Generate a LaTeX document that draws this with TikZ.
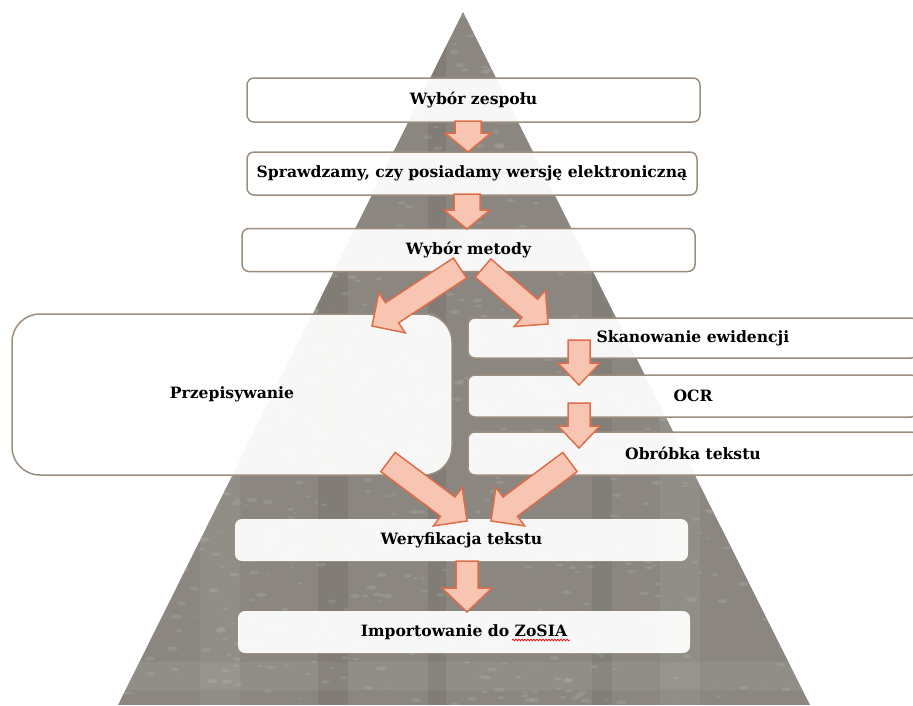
\documentclass[tikz,border=0pt]{standalone}
\usepackage{fontspec}
\setmainfont{DejaVu Serif}
\usetikzlibrary{calc,decorations.pathmorphing}
\definecolor{tri}{HTML}{8B8680}
\definecolor{boxline}{HTML}{9C8E7F}
\definecolor{arrfill}{HTML}{F8C5B3}
\definecolor{arrline}{HTML}{DE6E4A}
\tikzset{
  stepbox/.style={draw=boxline, line width=1.5pt, fill=white, fill opacity=0.94,
    text opacity=1, rounded corners=7pt, inner sep=0pt,
    font=\bfseries\fontsize{15.6}{18}\selectfont},
  barrow/.style={fill=arrfill, draw=arrline, line width=1.5pt, line join=miter},
  spell/.style={draw=red, line width=0.7pt, decorate,
    decoration={snake, amplitude=0.9pt, segment length=3pt}}
}
% block arrow: #1 from, #2 to, #3 half shaft, #4 half head, #5 head length
\newcommand\blockarr[5]{%
  \coordinate (ba-h) at ($(#2)!#5!(#1)$);
  \draw[barrow] ($(#1)!#3!90:(#2)$) -- ($(ba-h)!#3!90:(#2)$) -- ($(ba-h)!#4!90:(#2)$)
    -- (#2) -- ($(ba-h)!#4!-90:(#2)$) -- ($(ba-h)!#3!-90:(#2)$) -- ($(#1)!#3!-90:(#2)$) -- cycle;
}
\begin{document}
\begin{tikzpicture}[x=1pt, y=-1pt]
\useasboundingbox (0,0) rectangle (913,705);
\clip (0,0) rectangle (913,705);
\fill[white] (0,0) rectangle (913,705);
% textured pyramid
\begin{scope}
  \clip (463,12) -- (810,705) -- (118,705) -- cycle;
  \fill[tri] (0,0) rectangle (913,705);
  \fill[black, opacity=0.07] (318,0) rectangle (348,705);
  \fill[black, opacity=0.07] (428,0) rectangle (446,705);
  \fill[black, opacity=0.06] (592,0) rectangle (612,705);
  \fill[white, opacity=0.06] (200,0) rectangle (240,705);
  \fill[white, opacity=0.06] (660,0) rectangle (700,705);
  \fill[white, opacity=0.06] (100,662) rectangle (820,690);
  \pgfmathsetseed{7}
  \foreach \i in {1,...,1100}{
    \pgfmathsetmacro\px{118+rnd*692}
    \pgfmathsetmacro\py{12+rnd*693}
    \pgfmathsetmacro\pr{0.5+rnd*1.8}
    \fill[white, opacity=0.10] (\px,\py) ellipse [x radius=2.5*\pr, y radius=\pr];
  }
\end{scope}
% boxes
\node[stepbox, minimum width=453pt, minimum height=44pt] (b1) at (473.5,100) {Wybór zespołu};
\node[stepbox, minimum width=450pt, minimum height=43pt] (b2) at (472,173.5) {Sprawdzamy,\ czy posiadamy wersję elektroniczną};
\node[stepbox, minimum width=453pt, minimum height=43pt] (b3) at (468.5,250) {Wybór metody};
\node[stepbox, rounded corners=28pt, minimum width=440pt, minimum height=161pt] (bp) at (232,394.5) {Przepisywanie};
\node[stepbox, minimum width=450pt, minimum height=40pt] (bs) at (693,338) {Skanowanie ewidencji};
\node[stepbox, minimum width=450pt, minimum height=42pt] (bo) at (693,396) {OCR};
\node[stepbox, minimum width=450pt, minimum height=43pt] (bt) at (693,453.5) {Obróbka tekstu};
\node[stepbox, draw=none, minimum width=453pt, minimum height=42pt] (bw) at (461.5,540) {Weryfikacja tekstu};
\node[stepbox, draw=none, minimum width=452pt, minimum height=42pt] (bi) at (464,632) {Importowanie do ZoSIA};
\draw[spell] (512,640) -- (570,640);
% arrow end points
\coordinate (a1s) at (468,121);  \coordinate (a1e) at (468,152);
\coordinate (a2s) at (467,194);  \coordinate (a2e) at (467,229);
\coordinate (a3s) at (460,268);  \coordinate (a3e) at (372,326);
\coordinate (a4s) at (483,268);  \coordinate (a4e) at (548,324);
\coordinate (a5s) at (579,340);  \coordinate (a5e) at (579,385);
\coordinate (a6s) at (579,403);  \coordinate (a6e) at (579,448);
\coordinate (a7s) at (388,462);  \coordinate (a7e) at (467,521);
\coordinate (a8s) at (570,462);  \coordinate (a8e) at (491,521);
\coordinate (a9s) at (467,561);  \coordinate (a9e) at (467,612);
\blockarr{a1s}{a1e}{13pt}{23pt}{19pt}
\blockarr{a2s}{a2e}{13pt}{23pt}{19pt}
\blockarr{a3s}{a3e}{12pt}{24pt}{24pt}
\blockarr{a4s}{a4e}{12pt}{24pt}{24pt}
\blockarr{a5s}{a5e}{11pt}{21pt}{22pt}
\blockarr{a6s}{a6e}{11pt}{21pt}{22pt}
\blockarr{a7s}{a7e}{12pt}{24pt}{24pt}
\blockarr{a8s}{a8e}{12pt}{24pt}{24pt}
\blockarr{a9s}{a9e}{11pt}{25pt}{24pt}
\end{tikzpicture}
\end{document}
